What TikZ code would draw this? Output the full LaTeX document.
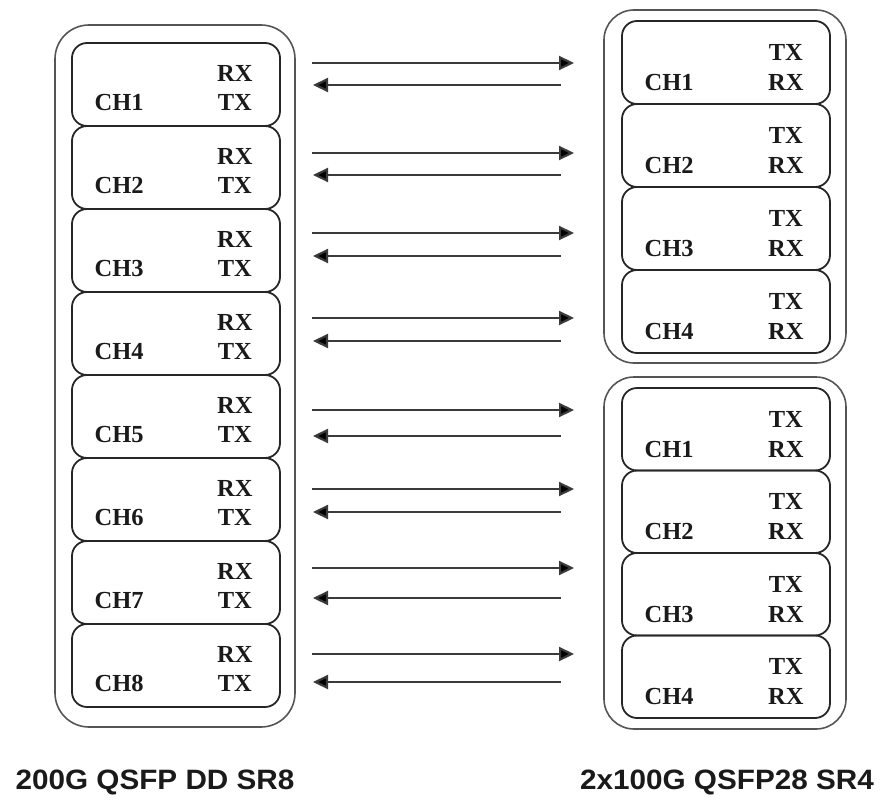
\documentclass[tikz,border=0pt]{standalone}
\usepackage{fontspec}
\setmainfont{Liberation Serif}
\newfontfamily\labelfont{Liberation Sans}
\usetikzlibrary{arrows.meta,calc}
\definecolor{ink}{HTML}{1A1A1A}
\definecolor{framegray}{HTML}{555555}
\definecolor{linegray}{HTML}{3A3A3A}

\begin{document}
\begin{tikzpicture}[x=1pt,y=-1pt,
  outerbox/.style={draw=framegray,line width=1.6pt,rounded corners=34pt},
  chbox/.style={draw=black!85,line width=1.8pt,rounded corners=15pt,
    minimum width=208pt,minimum height=83pt,inner sep=0pt},
  port/.style={font=\fontsize{24.5}{24.5}\selectfont\bfseries,text=ink,inner sep=0pt},
  link/.style={draw=linegray,line width=2.2pt,-{Triangle[length=15pt,width=14pt,fill=black]}},
  caption/.style={font=\labelfont\fontsize{28}{28}\selectfont\bfseries,text=ink,
    inner sep=0pt,xscale=1.06}
]
\useasboundingbox (0,0) rectangle (884,800);

% module outlines
\draw[outerbox] (55,25) rectangle (295,727);
\draw[outerbox,rounded corners=30pt] (604,10) rectangle (846,363);
\draw[outerbox,rounded corners=30pt] (604,377) rectangle (846,729);

% 200G QSFP-DD SR8 lanes
\foreach \i in {1,...,8} {
  \node[chbox] (L\i) at (176,{84.5+83*(\i-1)}) {};
  \node[port] (L\i rx) at ($(L\i.north east)+(-46,31)$) {RX};
  \node[port] (L\i tx) at ($(L\i.north east)+(-46,60)$) {TX};
  \node[port] (L\i ch) at ($(L\i.north west)+(48,60)$) {CH\i};
}

% first 100G QSFP28 SR4
\foreach \j in {1,...,4} {
  \node[chbox] (A\j) at (726,{62.5+83*(\j-1)}) {};
  \node[port] (A\j tx) at ($(A\j.north east)+(-45,32)$) {TX};
  \node[port] (A\j rx) at ($(A\j.north east)+(-45,62)$) {RX};
  \node[port] (A\j ch) at ($(A\j.north west)+(48,62)$) {CH\j};
}

% second 100G QSFP28 SR4
\foreach \j in {1,...,4} {
  \node[chbox,minimum height=82.5pt] (B\j) at (726,{429.25+82.5*(\j-1)}) {};
  \node[port] (B\j tx) at ($(B\j.north east)+(-45,32)$) {TX};
  \node[port] (B\j rx) at ($(B\j.north east)+(-45,62)$) {RX};
  \node[port] (B\j ch) at ($(B\j.north west)+(48,62)$) {CH\j};
}

% fibre links, one pair per lane
\foreach \k/\ya/\yb in {1/63/85,2/153/175,3/233/256,4/318/341,
                        5/410/436,6/489/512,7/568/598,8/654/682} {
  \coordinate (t\k s) at (312,\ya);
  \coordinate (t\k e) at (574,\ya);
  \coordinate (r\k s) at (561,\yb);
  \coordinate (r\k e) at (313,\yb);
  \draw[link] (t\k s) -- (t\k e);
  \draw[link] (r\k s) -- (r\k e);
}

% module names
\node[caption] (capL) at (155,782) {200G QSFP DD SR8};
\node[caption] (capR) at (727,782) {2x100G QSFP28 SR4};
\end{tikzpicture}
\end{document}
